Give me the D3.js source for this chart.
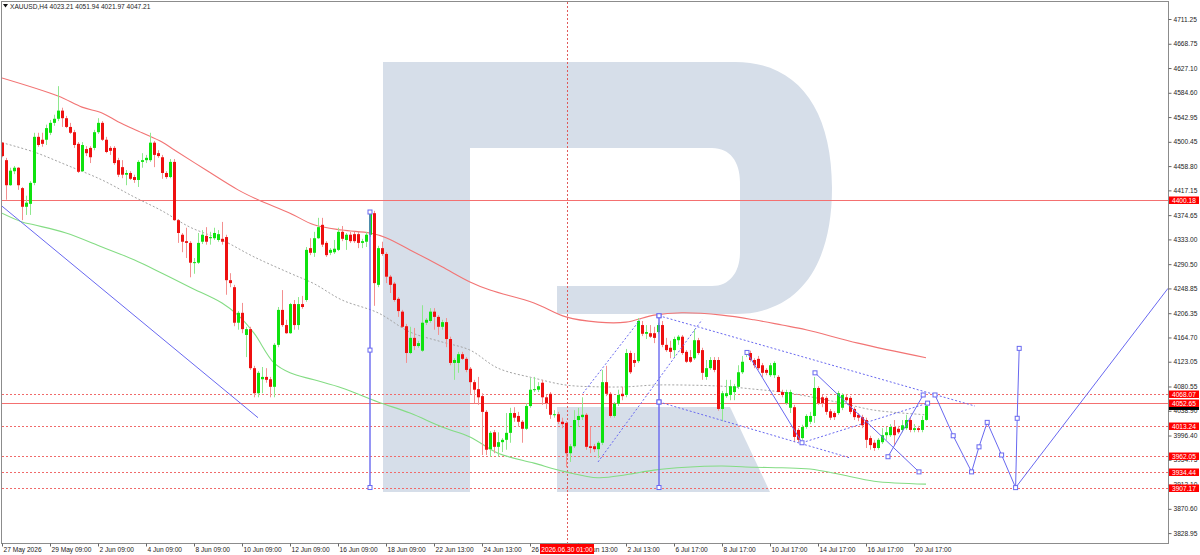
<!DOCTYPE html>
<html><head><meta charset="utf-8">
<script src="https://cdn.jsdelivr.net/npm/d3@7"></script>
<style>body{margin:0;background:#fff}svg{display:block}text{font-family:"Liberation Sans",Arial,sans-serif}</style>
</head><body>
<svg id="c" width="1200" height="555"></svg>
<script>
// ---------------- DATA ----------------
const symbolTitle = "XAUUSD,H4";
// H4 candles [open, high, low, close], one per bar index
const candles = [
[4499,4500,4474,4476],[4469,4473,4401,4426],[4426,4456,4425,4451],[4450,4459,4445,4456],[4456,4457,4418,4426],
[4421,4423,4366,4389],[4389,4408,4375,4396],[4394,4433,4375,4430],[4430,4516,4426,4509],[4509,4516,4492,4495],
[4504,4516,4492,4497],[4504,4530,4495,4524],[4516,4538,4512,4533],[4533,4547,4528,4540],[4540,4596,4536,4554],
[4554,4559,4526,4541],[4541,4545,4524,4526],[4526,4533,4514,4516],[4517,4521,4490,4495],[4497,4500,4447,4449],
[4450,4500,4449,4495],[4488,4493,4476,4481],[4490,4493,4464,4474],[4490,4521,4486,4517],[4517,4541,4514,4533],
[4533,4536,4502,4504],[4504,4509,4481,4483],[4490,4493,4478,4485],[4490,4493,4461,4464],[4469,4473,4440,4444],
[4457,4469,4438,4444],[4444,4452,4426,4447],[4447,4450,4435,4437],[4440,4444,4430,4435],[4435,4469,4423,4466],
[4466,4481,4456,4469],[4469,4478,4464,4473],[4469,4516,4466,4499],[4499,4502,4457,4478],[4481,4486,4473,4476],
[4474,4478,4437,4447],[4447,4450,4437,4440],[4440,4471,4438,4466],[4466,4471,4365,4366],[4366,4368,4327,4344],
[4341,4344,4311,4329],[4330,4353,4301,4327],[4327,4330,4268,4293],[4293,4301,4274,4294],[4293,4344,4291,4327],
[4329,4349,4325,4341],[4339,4354,4324,4329],[4335,4346,4324,4337],[4335,4353,4332,4344],[4332,4349,4329,4342],
[4334,4363,4324,4329],[4337,4341,4238,4263],[4263,4275,4251,4258],[4251,4255,4184,4190],[4190,4210,4178,4207],
[4207,4224,4172,4179],[4169,4183,4131,4179],[4179,4183,4109,4112],[4112,4116,4062,4069],[4069,4107,4062,4104],
[4093,4114,4069,4097],[4097,4112,4087,4092],[4093,4097,4062,4080],[4080,4155,4062,4152],[4152,4217,4148,4212],
[4212,4246,4183,4186],[4186,4195,4171,4172],[4172,4224,4171,4222],[4222,4229,4178,4186],[4186,4234,4178,4222],
[4222,4236,4214,4217],[4229,4320,4226,4315],[4318,4335,4306,4310],[4310,4346,4303,4335],[4335,4370,4334,4354],
[4358,4370,4320,4324],[4327,4330,4303,4306],[4310,4318,4306,4315],[4311,4332,4308,4317],[4315,4353,4313,4346],
[4346,4356,4330,4334],[4332,4344,4315,4341],[4341,4346,4327,4330],[4342,4346,4327,4330],[4342,4346,4318,4327],
[4327,4334,4318,4330],[4329,4346,4320,4341],[4341,4382,4337,4378],[4378,4382,4219,4258],[4255,4322,4251,4318],
[4318,4329,4305,4308],[4308,4311,4258,4269],[4269,4272,4241,4255],[4257,4260,4226,4229],[4231,4234,4200,4210],
[4209,4212,4181,4183],[4184,4188,4121,4138],[4138,4183,4136,4164],[4164,4181,4143,4150],[4150,4159,4147,4155],
[4142,4220,4140,4190],[4190,4198,4186,4195],[4193,4215,4190,4209],[4209,4215,4178,4200],[4200,4203,4169,4183],
[4183,4195,4178,4191],[4191,4198,4148,4162],[4162,4166,4117,4121],[4121,4129,4092,4126],[4121,4140,4104,4136],
[4136,4140,4126,4128],[4128,4131,4105,4109],[4111,4114,4068,4088],[4088,4092,4052,4075],[4076,4097,4049,4062],
[4064,4069,3963,4037],[4037,4040,3963,3972],[3973,4004,3960,4001],[4002,4006,3966,3977],[3977,4002,3960,3985],
[3985,3992,3968,3989],[3989,4035,3972,4001],[4001,4044,3984,4035],[4035,4045,4020,4027],[4030,4037,4011,4020],
[4020,4023,3984,4008],[4008,4052,4006,4047],[4047,4095,4044,4075],[4075,4097,4071,4076],[4075,4088,4071,4081],
[4087,4092,4049,4062],[4062,4066,4042,4052],[4068,4071,4025,4032],[4032,4040,4027,4033],[4033,4037,4016,4020],
[4020,4027,4009,4016],[4018,4021,3942,3966],[3966,3982,3951,3978],[3978,4040,3975,4023],[4023,4044,4011,4030],
[4028,4062,4023,4032],[4032,4035,3972,3977],[3978,4011,3966,3975],[3978,3982,3968,3973],[3973,3987,3958,3984],
[3984,4109,3980,4088],[4088,4116,4064,4068],[4068,4071,4027,4030],[4030,4054,4027,4051],[4051,4075,4047,4066],
[4068,4080,4057,4064],[4066,4145,4062,4138],[4138,4142,4102,4105],[4126,4138,4114,4121],[4124,4198,4121,4193],
[4186,4193,4167,4171],[4171,4186,4162,4174],[4172,4186,4164,4166],[4172,4183,4155,4164],[4174,4190,4171,4186],
[4186,4193,4148,4152],[4152,4164,4140,4143],[4147,4159,4129,4140],[4143,4166,4131,4162],[4160,4169,4152,4166],
[4166,4169,4135,4138],[4140,4143,4121,4123],[4131,4143,4121,4123],[4129,4179,4126,4160],[4160,4164,4135,4138],
[4143,4147,4092,4104],[4097,4126,4092,4112],[4112,4131,4109,4126],[4126,4131,4105,4109],[4126,4131,4039,4042],
[4042,4073,4021,4069],[4064,4092,4061,4069],[4066,4092,4057,4081],[4071,4085,4057,4081],[4080,4117,4076,4105],
[4105,4133,4102,4123],[4135,4143,4131,4138],[4138,4142,4123,4126],[4126,4129,4112,4117],[4128,4133,4109,4112],
[4117,4121,4097,4104],[4109,4112,4100,4104],[4100,4121,4097,4117],[4100,4124,4095,4121],[4097,4100,4071,4071],
[4071,4075,4062,4066],[4052,4075,4049,4071],[4044,4075,4035,4071],[4045,4049,3985,3994],[4006,4009,3985,3989],
[3992,4015,3989,4011],[4011,4033,4008,4030],[4020,4037,4016,4030],[4030,4097,4018,4078],[4078,4081,4049,4052],
[4062,4066,4045,4052],[4061,4064,4032,4037],[4038,4042,4023,4027],[4035,4038,4023,4028],[4035,4073,4032,4069],
[4044,4069,4040,4066],[4062,4066,4054,4057],[4061,4064,4033,4037],[4042,4045,4023,4028],[4032,4035,4021,4027],
[4028,4032,4009,4014],[4023,4027,3975,3989],[3992,3996,3972,3980],[3984,3989,3970,3975],[3975,3992,3972,3989],
[3985,4009,3982,3997],[3997,4011,3989,4002],[3997,4016,3994,4011],[4011,4023,3980,3997],[4008,4013,3999,4002],
[4006,4023,4002,4014],[4009,4032,4006,4023],[4023,4027,4002,4006],[4006,4016,4002,4009],[4009,4013,4002,4006],
[4006,4030,4002,4023],[4023.21,4051.94,4021.97,4047.21]
];
// moving averages sampled [barIndex, price]
const maRed = [[0,4610],[14,4579],[20,4560],[25,4550],[29,4535],[35,4516],[40,4500],[43,4487],[51,4452],[59,4418],[64,4401],[72,4378],[78,4358],[85,4349],[92,4344],[96,4336],[102,4315],[110,4286],[117,4260],[122,4246],[133,4224],[141,4200],[149,4191],[156,4191],[163,4203],[170,4207],[180,4203],[188,4195],[195,4186],[201,4178],[214,4155],[231,4130]];
const maGray = [[0,4499],[8,4483],[16,4461],[25,4435],[33,4406],[40,4382],[47,4354],[55,4332],[63,4303],[72,4275],[78,4257],[85,4229],[94,4207],[102,4174],[110,4157],[117,4143],[124,4112],[133,4095],[141,4083],[149,4080],[156,4080],[163,4083],[171,4083],[180,4081],[188,4076],[195,4071],[202,4063],[210,4052],[218,4040],[231,4032]];
const maGreen = [[0,4378],[5,4363],[8,4358],[16,4344],[25,4320],[33,4298],[40,4275],[47,4251],[55,4224],[59,4203],[63,4172],[68,4121],[72,4104],[78,4092],[85,4078],[94,4054],[102,4035],[110,4011],[117,3994],[124,3966],[133,3949],[141,3934],[149,3924],[156,3929],[163,3937],[171,3942],[180,3944],[188,3942],[195,3941],[202,3939],[210,3929],[218,3918],[231,3913]];
// price levels
const solidLevels = [4400.18, 4052.65];
const dashedLevels = [4068.07, 4013.24, 3962.05, 3934.44, 3907.17];
const currentPrice = 4047.21;
// axis ticks
const yTicks = [4711.25,4668.75,4627.10,4584.60,4542.95,4500.45,4458.80,4417.15,4374.65,4333.00,4290.50,4248.85,4206.35,4164.70,4123.05,4080.55,4038.90,3996.40,3954.75,3912.10,3870.60,3828.95];
const xTickIndex = [0,12,24,36,48,60,72,84,96,108,120,132,144,156,168,180,192,204,216,228];
const xTickLabels = ["27 May 2026","29 May 09:00","2 Jun 09:00","4 Jun 09:00","8 Jun 09:00","10 Jun 09:00","12 Jun 09:00","16 Jun 09:00","18 Jun 09:00","22 Jun 13:00","24 Jun 13:00","26 Jun 13:00","30 Jun 13:00","2 Jul 13:00","6 Jul 17:00","8 Jul 17:00","10 Jul 17:00","14 Jul 17:00","16 Jul 17:00","20 Jul 17:00"];
const crossIndex = 141.25, crossLabel = "2026.06.30 01:00";
// analysis drawings [barIndex, price]
const trendLine = [[0,4390],[64,4027]];
const vLines = [{i:92, top:4380, mid:4143, bot:3907.17},{i:164.25, top:4202, mid:4054, bot:3907.17}];
const dottedLines = [
  [[164.25,4202],[243.25,4047]],
  [[164.25,4054],[212,3958]],
  [[145.25,4069],[159.5,4195]],
  [[149,3951],[175,4195]],
  [[200,3984],[231.4,4052]]
];
const solidSegs = [
  [[186.25,4139],[200,3984]],
  [[203.25,4104],[229.25,3934]],
  [[221.5,3960],[230.3,4066]]
];
const forecast = [[233.25,4066],[237.8,3996],[242.4,3934],[244.25,3977],[246.3,4019],[249.9,3963],[253.4,3907],[253.8,4026],[254.3,4146]];
const forecastTail = [[253.4,3907],[291.5,4249]];

// ---------------- DRAW ----------------
const svg = d3.select("#c");
const W = 1200, H = 555, L = 2, R = 1168, T = 2, B = 543;
const x = d3.scaleLinear().domain([0, 291.5]).range([L, R]);
const y = d3.scaleLinear().domain([3828.95, 4711.25]).range([533.1, 19]);

const FONT = 6.6;
const blue = "#6868f0";

// watermark logo (background decoration)
const wm = svg.append("g").attr("fill", "#d6dee9");
wm.append("rect").attr("x",383).attr("y",62).attr("width",87).attr("height",430);
wm.append("path").attr("d","M470,62 H735 C797,62 832,108 832,188 C832,268 797,314 735,314 H557 V286 H712 C730,286 740,272 740,252 V182 C740,162 730,148 712,148 H470 Z");
wm.append("path").attr("d","M557,407 H730 L770,492 H557 Z");

const plot = svg.append("g");
plot.append("clipPath").attr("id","clip").append("rect").attr("x",L).attr("y",T).attr("width",R-L).attr("height",B-T);
const g = plot.append("g").attr("clip-path","url(#clip)");

// horizontal levels
g.selectAll(".lvS").data(solidLevels).join("line")
  .attr("x1",L).attr("x2",R).attr("y1",d=>Math.round(y(d))+0.5).attr("y2",d=>Math.round(y(d))+0.5)
  .attr("stroke","#f47070").attr("stroke-width",1);
g.selectAll(".lvD").data(dashedLevels).join("line")
  .attr("x1",L).attr("x2",R).attr("y1",d=>Math.round(y(d))+0.5).attr("y2",d=>Math.round(y(d))+0.5)
  .attr("stroke","#f06a6a").attr("stroke-width",1).attr("stroke-dasharray","2,2");

// crosshair vertical
g.append("line").attr("x1",Math.round(x(crossIndex))+0.5).attr("x2",Math.round(x(crossIndex))+0.5)
  .attr("y1",T).attr("y2",B).attr("stroke","#e05a5a").attr("stroke-dasharray","2,2");

// moving averages
const line = d3.line().x(d=>x(d[0])).y(d=>y(d[1])).curve(d3.curveCatmullRom);
g.append("path").datum(maRed).attr("d",line).attr("fill","none").attr("stroke","#f27474").attr("stroke-width",1.1);
g.append("path").datum(maGray).attr("d",line).attr("fill","none").attr("stroke","#a4a4a4").attr("stroke-width",1).attr("stroke-dasharray","2,2");
g.append("path").datum(maGreen).attr("d",line).attr("fill","none").attr("stroke","#84dc84").attr("stroke-width",1.1);

// candles
const cg = g.append("g");
candles.forEach((c,i)=>{
  const [o,h,l,cl] = c;
  const up = cl >= o;
  const cx = Math.round(x(i));
  cg.append("line").attr("x1",cx+0.5).attr("x2",cx+0.5).attr("y1",y(h)).attr("y2",y(l))
    .attr("stroke", up ? "#8ee88e" : "#f39090").attr("stroke-width",1);
  const yt = y(Math.max(o,cl)), yb = y(Math.min(o,cl));
  cg.append("rect").attr("x",cx-1).attr("y",yt).attr("width",3).attr("height",Math.max(1,yb-yt))
    .attr("fill", up ? "#0ee20e" : "#ee1010");
});

// blue drawings
const lin = d3.line().x(d=>x(d[0])).y(d=>y(d[1]));
g.append("path").datum(trendLine).attr("d",lin).attr("stroke",blue).attr("fill","none").attr("stroke-width",1);
dottedLines.forEach(s=>g.append("path").datum(s).attr("d",lin).attr("stroke",blue).attr("fill","none").attr("stroke-dasharray","2,2").attr("stroke-width",1));
solidSegs.forEach(s=>g.append("path").datum(s).attr("d",lin).attr("stroke",blue).attr("fill","none").attr("stroke-width",1));
g.append("path").datum(forecast).attr("d",lin).attr("stroke",blue).attr("fill","none").attr("stroke-width",1);
g.append("path").datum(forecastTail).attr("d",lin).attr("stroke",blue).attr("fill","none").attr("stroke-width",1);
vLines.forEach(v=>{
  g.append("line").attr("x1",x(v.i)).attr("x2",x(v.i)).attr("y1",y(v.top)).attr("y2",y(v.bot)).attr("stroke",blue).attr("stroke-width",1.4);
});
const squares = [];
vLines.forEach(v=>{squares.push([v.i,v.top],[v.i,v.mid],[v.i,v.bot]);});
dottedLines.slice(0,2).forEach(s=>squares.push(s[0]));
dottedLines.slice(4).forEach(s=>squares.push(s[1]));
solidSegs.forEach(s=>squares.push(s[0],s[1]));
forecast.forEach(p=>squares.push(p));
g.selectAll(".sq").data(squares).join("rect")
  .attr("x",d=>x(d[0])-2).attr("y",d=>y(d[1])-2).attr("width",4).attr("height",4)
  .attr("fill","#fff").attr("stroke",blue).attr("stroke-width",1);

// frame
svg.append("rect").attr("x",L-0.5).attr("y",T-0.5).attr("width",R-L+1).attr("height",B-T+1)
  .attr("fill","none").attr("stroke","#8c8c8c").attr("stroke-width",1);

// y axis
const yAxis = d3.axisRight(y).tickValues(yTicks).tickFormat(d3.format(".2f")).tickSize(3).tickPadding(2);
const ya = svg.append("g").attr("transform",`translate(${R+0.5},0)`).call(yAxis);
ya.select(".domain").remove();
ya.selectAll("line").attr("stroke","#666");
ya.selectAll("text").attr("font-size",FONT).attr("fill","#222").attr("font-family","Liberation Sans, Arial, sans-serif");

// x axis
const xAxis = d3.axisBottom(x).tickValues(xTickIndex).tickFormat((d,i)=>xTickLabels[i]).tickSize(3).tickPadding(1);
const xa = svg.append("g").attr("transform",`translate(0,${B+0.5})`).call(xAxis);
xa.select(".domain").remove();
xa.selectAll("line").attr("stroke","#666");
xa.selectAll("text").attr("font-size",FONT).attr("fill","#222").attr("text-anchor","start").attr("dx","1")
  .attr("font-family","Liberation Sans, Arial, sans-serif");

// price labels
function priceTag(v, fill, withText){
  const yy = Math.round(y(v));
  svg.append("rect").attr("x",R+1).attr("y",yy-3.5).attr("width",W-R-2).attr("height",7.5).attr("fill",fill);
  if (withText) svg.append("text").attr("x",R+4).attr("y",yy+2.5).attr("font-size",FONT).attr("fill","#fff").text(v.toFixed(2));
}
priceTag(currentPrice,"#000", false);   // fully covered by the 4052.65 tag in the reference
dashedLevels.concat(solidLevels).forEach(v=>priceTag(v,"#ff0000", true));

// crosshair time label
const cxp = x(crossIndex);
svg.append("rect").attr("x",cxp-27).attr("y",B+1).attr("width",54).attr("height",10).attr("fill","#ff0000");
svg.append("text").attr("x",cxp).attr("y",B+8.5).attr("text-anchor","middle").attr("font-size",FONT).attr("fill","#fff").text(crossLabel);

// header
svg.append("path").attr("d","M3,4 H8 L5.5,7.5 Z").attr("fill","#111");
const last = candles[candles.length-1];
svg.append("text").attr("x",10).attr("y",8.5).attr("font-size",FONT).attr("fill","#222")
  .text(`${symbolTitle}  ${last.map(v=>v.toFixed(2)).join(" ")}`);
</script>
</body></html>
